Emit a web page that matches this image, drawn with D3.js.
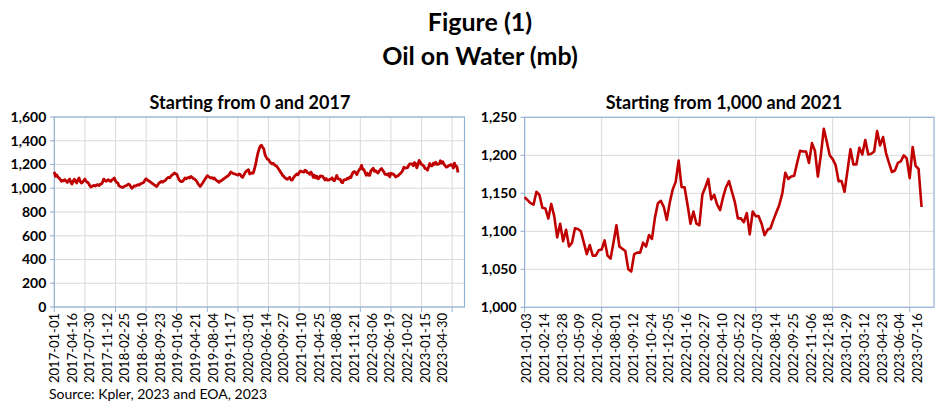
<!DOCTYPE html>
<html>
<head>
<meta charset="utf-8">
<script src="https://cdn.jsdelivr.net/npm/d3@7"></script>
<style>
  html, body { margin: 0; padding: 0; background: #fff; }
  svg { display: block; }
  text { font-family: Lato, "Open Sans", sans-serif; fill: #000; }
</style>
</head>
<body>
<svg id="chart" width="949" height="413"></svg>
<script>
// ---------------- DATA ----------------
const titleLines = ["Figure (1)", "Oil on Water (mb)"];
const leftTitle = "Starting from 0 and 2017";
const rightTitle = "Starting from 1,000 and 2021";
const sourceText = "Source: Kpler, 2023 and EOA, 2023";

const leftStart = "2017-01-01";   // weekly series start (left panel)
const rightStart = "2021-01-03";  // weekly series start (right panel)

// Weekly oil on water (mb), 2017-01-01 .. 2020-12-27
const values2017to2020 = [
  1137,1100,1112,1095,1086,1075,1058,1066,1062,1072,1060,1049,1065,1077,1050,1035,1060,1077,1058,1044,
  1070,1086,1058,1044,1050,1065,1077,1060,1050,1044,1025,1010,1015,1022,1024,1018,1028,1030,1022,1035,
  1035,1050,1077,1068,1058,1066,1072,1062,1058,1070,1078,1086,1062,1048,1044,1020,1015,1010,1007,1012,
  1018,1021,1028,1035,1030,1012,1000,1010,1021,1018,1025,1030,1026,1035,1040,1044,1050,1068,1080,1070,
  1062,1058,1050,1042,1035,1028,1020,1015,1030,1044,1050,1058,1052,1060,1063,1075,1085,1092,1088,1100,
  1112,1118,1128,1122,1120,1095,1072,1060,1055,1058,1070,1086,1080,1086,1092,1086,1100,1092,1082,1080,
  1070,1058,1040,1025,1016,1030,1044,1060,1075,1090,1106,1098,1092,1086,1090,1080,1086,1072,1065,1058,
  1050,1062,1063,1072,1080,1086,1095,1100,1108,1120,1137,1130,1125,1120,1118,1114,1110,1120,1115,1100,
  1092,1110,1130,1142,1150,1156,1120,1125,1130,1128,1160,1199,1250,1297,1330,1355,1362,1345,1330,1283,
  1262,1245,1241,1225,1213,1205,1210,1199,1190,1185,1170,1155,1140,1125,1108,1100,1088,1080,1075,1085,
  1092,1072,1068,1085,1100,1110,1120,1114,1130
];

// Weekly oil on water (mb), 2021-01-03 .. 2023-07-30
const values2021to2023 = [
  1145,1141,1137,1135,1152,1148,1131,1130,1117,1136,1120,1092,1110,1087,1102,1080,1085,1104,1103,1100,
  1085,1070,1082,1068,1068,1075,1076,1088,1068,1064,1085,1108,1080,1077,1074,1050,1047,1070,1072,1072,
  1085,1080,1095,1090,1118,1137,1140,1132,1115,1138,1155,1165,1193,1158,1158,1135,1110,1126,1110,1108,
  1148,1158,1169,1142,1148,1135,1128,1145,1158,1166,1152,1138,1117,1117,1112,1124,1096,1126,1120,1120,
  1110,1095,1102,1104,1115,1125,1135,1150,1177,1169,1172,1173,1190,1206,1205,1205,1190,1216,1206,1172,
  1200,1235,1218,1200,1195,1187,1166,1166,1152,1180,1208,1188,1188,1210,1201,1220,1201,1202,1205,1232,
  1213,1224,1203,1190,1178,1180,1190,1192,1200,1196,1170,1211,1186,1182,1132
];

const leftYTicks = [0,200,400,600,800,1000,1200,1400,1600];
const rightYTicks = [1000,1050,1100,1150,1200,1250];

const leftXLabels = ["2017-01-01","2017-04-16","2017-07-30","2017-11-12","2018-02-25","2018-06-10",
  "2018-09-23","2019-01-06","2019-04-21","2019-08-04","2019-11-17","2020-03-01","2020-06-14",
  "2020-09-27","2021-01-10","2021-04-25","2021-08-08","2021-11-21","2022-03-06","2022-06-19",
  "2022-10-02","2023-01-15","2023-04-30"];
const rightXLabels = ["2021-01-03","2021-02-14","2021-03-28","2021-05-09","2021-06-20","2021-08-01",
  "2021-09-12","2021-10-24","2021-12-05","2022-01-16","2022-02-27","2022-04-10","2022-05-22",
  "2022-07-03","2022-08-14","2022-09-25","2022-11-06","2022-12-18","2023-01-29","2023-03-12",
  "2023-04-23","2023-06-04","2023-07-16"];

// ---------------- DRAW ----------------
const svg = d3.select("#chart");
const parse = d3.utcParse("%Y-%m-%d");
const WEEK = 7 * 24 * 3600 * 1000;
const fmt = d3.format(",");

svg.append("text").attr("x", 480).attr("y", 31).attr("text-anchor", "middle")
  .attr("font-weight", 700).attr("font-size", 25).text(titleLines[0]);
svg.append("text").attr("x", 480).attr("y", 65).attr("text-anchor", "middle")
  .attr("font-weight", 700).attr("font-size", 25).text(titleLines[1]);

function panel(cfg) {
  const start = parse(cfg.start);
  const pts = cfg.values.map((v, i) => ({ i, v }));
  const x = d3.scaleLinear().domain([0, cfg.weeksSpan]).range([cfg.left, cfg.right]);
  const y = d3.scaleLinear().domain(cfg.yDomain).range([cfg.bottom, cfg.top]);
  const g = svg.append("g");

  // subtitle
  g.append("text").attr("x", cfg.titleX).attr("y", 108.5).attr("text-anchor", "middle")
    .attr("font-weight", 700).attr("font-size", 18).text(cfg.title);

  // horizontal grid
  g.append("g").selectAll("line").data(cfg.yTicks).join("line")
    .attr("x1", cfg.left - 4).attr("x2", cfg.right)
    .attr("y1", d => y(d)).attr("y2", d => y(d))
    .attr("stroke", "#D9D9D9").attr("stroke-width", 1);

  // vertical grid / tick marks every 26 weeks
  const vt = d3.range(0, cfg.weeksSpan, 26);
  g.append("g").selectAll("line").data(vt).join("line")
    .attr("x1", d => x(d)).attr("x2", d => x(d))
    .attr("y1", cfg.top).attr("y2", cfg.bottom)
    .attr("stroke", "#D9D9D9").attr("stroke-width", 1);
  g.append("g").selectAll("line").data(vt).join("line")
    .attr("x1", d => x(d)).attr("x2", d => x(d))
    .attr("y1", cfg.bottom).attr("y2", cfg.bottom + 5)
    .attr("stroke", "#95B3D7").attr("stroke-width", 1);

  // y ticks on axis
  g.append("g").selectAll("line").data(cfg.yTicks).join("line")
    .attr("x1", cfg.left - 4).attr("x2", cfg.left)
    .attr("y1", d => y(d)).attr("y2", d => y(d))
    .attr("stroke", "#95B3D7").attr("stroke-width", 1);

  // frame
  g.append("rect").attr("x", cfg.left).attr("y", cfg.top)
    .attr("width", cfg.right - cfg.left).attr("height", cfg.bottom - cfg.top)
    .attr("fill", "none").attr("stroke", "#95B3D7").attr("stroke-width", 1.2);

  // y labels
  g.append("g").selectAll("text").data(cfg.yTicks).join("text")
    .attr("x", cfg.left - 8).attr("y", d => y(d)).attr("dy", "0.35em")
    .attr("text-anchor", "end").attr("font-weight", 700).attr("font-size", 14)
    .text(d => fmt(d));

  // x labels
  g.append("g").selectAll("text").data(cfg.xLabels).join("text")
    .attr("transform", d => {
      const idx = Math.round((parse(d) - start) / WEEK);
      return `translate(${x(idx) + cfg.labelShift},${cfg.bottom + 6}) rotate(-90)`;
    })
    .attr("dy", "0.35em").attr("text-anchor", "end").attr("font-size", 13)
    .text(d => d);

  // line
  const line = d3.line().x(d => x(d.i)).y(d => y(d.v));
  g.append("path").datum(pts).attr("d", line)
    .attr("fill", "none").attr("stroke", "#C00000").attr("stroke-width", cfg.lineWidth)
    .attr("stroke-linejoin", "round");
}

panel({
  start: leftStart, values: values2017to2020.concat(values2021to2023),
  weeksSpan: 348.5, left: 54.3, right: 464.5, top: 117, bottom: 307,
  yDomain: [0, 1600], yTicks: leftYTicks, xLabels: leftXLabels,
  title: leftTitle, titleX: 250, labelShift: 0, lineWidth: 2.8
});
panel({
  start: rightStart, values: values2021to2023,
  weeksSpan: 138.2, left: 524.6, right: 934, top: 117.3, bottom: 307.3,
  yDomain: [1000, 1250], yTicks: rightYTicks, xLabels: rightXLabels,
  title: rightTitle, titleX: 724, labelShift: 2, lineWidth: 2.6
});

svg.append("text").attr("x", 49).attr("y", 399).attr("font-size", 14).text(sourceText);
</script>
</body>
</html>
